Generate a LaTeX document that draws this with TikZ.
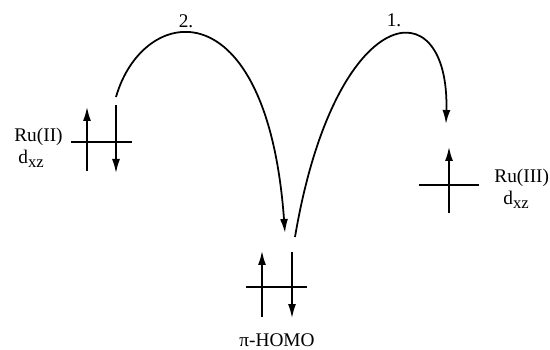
\documentclass[tikz,border=0pt]{standalone}
\usepackage{fontspec}
\setmainfont{Liberation Serif}
\usepackage{tikz}
\usetikzlibrary{arrows.meta,positioning,calc}
\newcommand{\dxz}{d\raisebox{-0.45ex}{\fontsize{9.5}{9.5}\selectfont xz}}

\begin{document}
\begin{tikzpicture}[x=0.02cm, y=-0.02cm, font=\fontsize{11}{13}\selectfont,
  >={Latex[length=2.8mm,width=1.6mm]},
  level/.style={line width=0.9pt},
  spin/.style={line width=0.9pt, ->},
  hop/.style={line width=1pt, ->},
  lbl/.style={inner sep=0pt, anchor=west}]
  \useasboundingbox (0,0) rectangle (550,350);

  % Ru(II) d_xz (left)
  \draw[level] (71,142) -- (132,142);
  \coordinate (ruIIup0) at (87,171);   \coordinate (ruIIup1) at (87,107);
  \coordinate (ruIIdn0) at (116,105);  \coordinate (ruIIdn1) at (116,173);
  \draw[spin] (ruIIup0) -- (ruIIup1);
  \draw[spin] (ruIIdn0) -- (ruIIdn1);
  \node[lbl] (ruII) at (14,137) {Ru(II)};
  \node[lbl] (ruIIdxz) at (18,159) {\dxz};

  % Ru(III) d_xz (right)
  \draw[level] (419,185) -- (479,185);
  \coordinate (ruIIIup0) at (449,213); \coordinate (ruIIIup1) at (449,147);
  \draw[spin] (ruIIIup0) -- (ruIIIup1);
  \node[lbl] (ruIII) at (494,178) {Ru(III)};
  \node[lbl] (ruIIIdxz) at (503,200) {\dxz};

  % pi-HOMO (middle)
  \draw[level] (246,287) -- (307,287);
  \coordinate (homoup0) at (262,317); \coordinate (homoup1) at (262,251);
  \coordinate (homodn0) at (292,252); \coordinate (homodn1) at (292,318);
  \draw[spin] (homoup0) -- (homoup1);
  \draw[spin] (homodn0) -- (homodn1);
  \node (homo) at (277,340) {π-HOMO};

  % electron transfer steps
  \coordinate (s2a) at (116,97);  \coordinate (s2b) at (285,233);
  \coordinate (s1a) at (295,237); \coordinate (s1b) at (446,124);
  \draw[hop] (s2a) .. controls (143,3) and (267,-15) .. (s2b);
  \draw[hop] (s1a) .. controls (335,0) and (450,-15) .. (s1b);
  \node (step2) at (186,21) {2.};
  \node (step1) at (394,20) {1.};
\end{tikzpicture}
\end{document}
